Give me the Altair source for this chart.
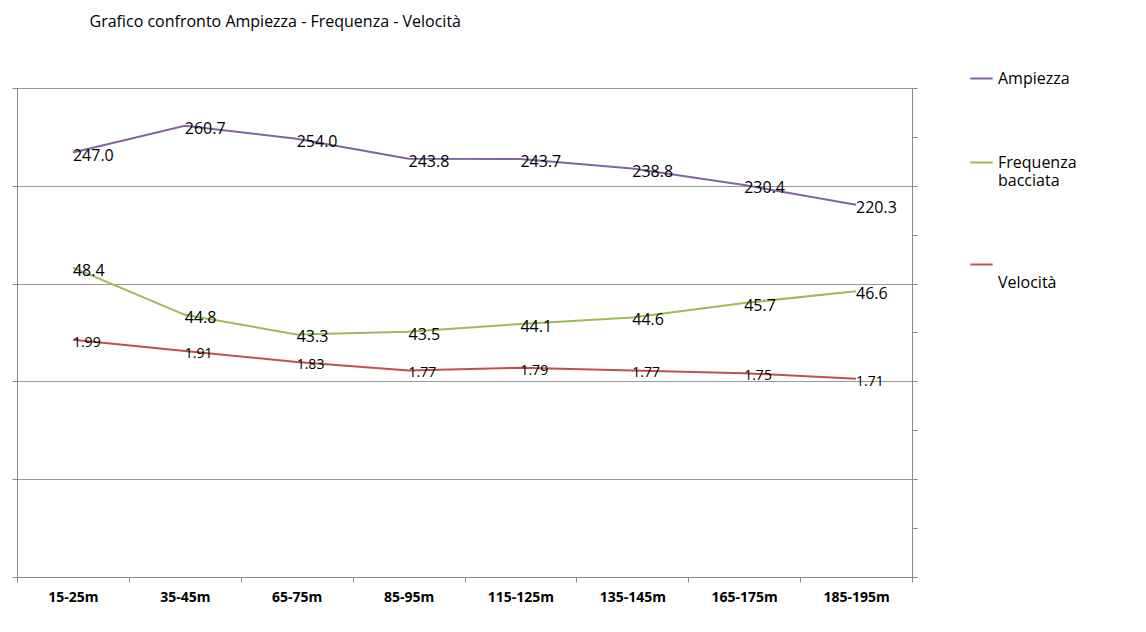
import altair as alt
import pandas as pd

categorie = ["15-25m", "35-45m", "65-75m", "85-95m", "115-125m", "135-145m", "165-175m", "185-195m"]
ampiezza = [247.0, 260.7, 254.0, 243.8, 243.7, 238.8, 230.4, 220.3]
frequenza = [48.4, 44.8, 43.3, 43.5, 44.1, 44.6, 45.7, 46.6]
velocita = [1.99, 1.91, 1.83, 1.77, 1.79, 1.77, 1.75, 1.71]

serie_nomi = ["Ampiezza", "Frequenza bacciata", "Velocità"]
colori = ["#8064A2", "#9BBB59", "#C0504D"]

righe = []
for nome, valori, fmt in zip(serie_nomi, [ampiezza, frequenza, velocita], ["{:.1f}", "{:.1f}", "{:.2f}"]):
    for c, v in zip(categorie, valori):
        righe.append({"categoria": c, "valore": v, "serie": nome, "etichetta": fmt.format(v)})
df = pd.DataFrame(righe)

x = alt.X("categoria:N", sort=categorie, title=None, scale=alt.Scale(paddingInner=0, paddingOuter=0),
          axis=alt.Axis(labelAngle=0, labelFontSize=14, labelFontWeight="bold", labelColor="#000",
                        tickBand="extent", tickColor="#888", domainColor="#888", labelPadding=8))
colore = alt.Color("serie:N", scale=alt.Scale(domain=serie_nomi, range=colori),
                   legend=alt.Legend(title=None, orient="none", legendX=952, legendY=-22,
                                     symbolType="stroke", symbolSize=500, symbolStrokeWidth=2,
                                     labelFontSize=16, labelColor="#000", rowPadding=63,
                                     labelExpr="datum.label == 'Frequenza bacciata' ? ['Frequenza','bacciata'] : "
                                               "(datum.label == 'Velocità' ? [' ', ' ', 'Velocità', ' ', ' '] : datum.label)"))

def serie(nome, dominio, asse, size):
    base = alt.Chart(df).transform_filter(alt.datum.serie == nome)
    y = alt.Y("valore:Q", scale=alt.Scale(domain=dominio, nice=False, zero=False), axis=asse, title=None)
    linea = base.mark_line(strokeWidth=2).encode(x=x, y=y, color=colore)
    testo = base.mark_text(align="left", baseline="middle", dx=0, dy=3, fontSize=size, color="#000").encode(
        x=x, y=y, text="etichetta:N")
    return alt.layer(linea, testo)

asse_sx = alt.Axis(values=[30, 80, 130, 180, 230, 280], labels=False, grid=True, gridColor="#999",
                   tickColor="#888", domainColor="#888", tickSize=5)
asse_dx = alt.Axis(orient="right", values=[0.285 + i * 3.515 / 10 for i in range(11)], labels=False, grid=False,
                   tickColor="#888", domainColor="#888", tickSize=5)

chart = alt.layer(
    serie("Ampiezza", [30, 280], asse_sx, 16),
    serie("Frequenza bacciata", [24.8, 62.1], None, 16),
    serie("Velocità", [0.285, 3.8], asse_dx, 14),
).resolve_scale(y="independent").properties(
    width=895, height=489,
    autosize=alt.AutoSizeParams(type="none"),
    padding={"left": 9, "top": 80, "right": 226, "bottom": 55},
    title=alt.TitleParams("Grafico confronto    Ampiezza - Frequenza - Velocità", anchor="start", dx=78,
                          offset=36, fontSize=16, fontWeight="normal", color="#000"),
).configure_view(stroke=None).configure(font="Open Sans")

chart.save("out.html", embed_options={"renderer": "svg", "actions": False})
